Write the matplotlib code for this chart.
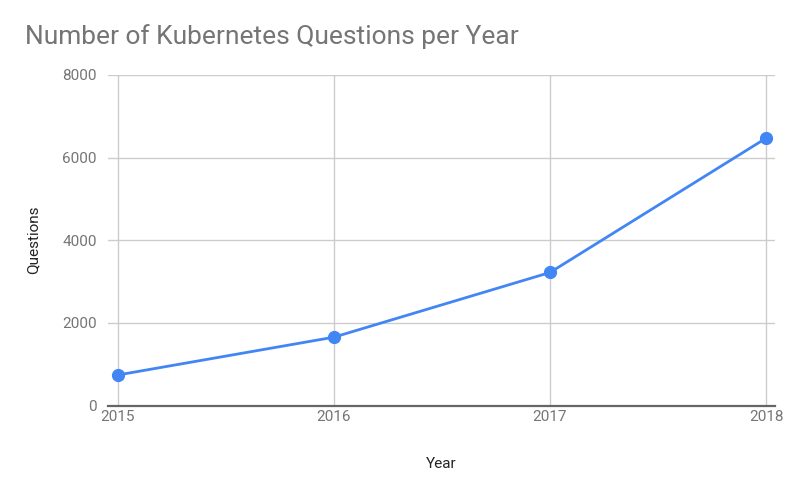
import matplotlib
matplotlib.use("Agg")
from matplotlib import pyplot as plt

years = [2015, 2016, 2017, 2018]
questions = [740, 1655, 3220, 6470]
yticks = [0, 2000, 4000, 6000, 8000]

plt.rcParams['font.family'] = ['Roboto', 'DejaVu Sans']

fig = plt.figure(figsize=(8, 4.8), dpi=100)
ax = fig.add_axes([0.135, 0.155, 0.834, 0.689])

ax.plot(years, questions, color='#4285F4', lw=2, marker='o', ms=8.5, zorder=3, clip_on=False)

ax.set_xlim(2014.955, 2018.042)
ax.set_ylim(0, 8000)
ax.set_xticks(years)
ax.set_yticks(yticks)
ax.grid(True, color='#cccccc', lw=1)
ax.set_axisbelow(True)
for s in ['top', 'right', 'left']:
    ax.spines[s].set_visible(False)
ax.spines['bottom'].set_color('#666666')
ax.spines['bottom'].set_linewidth(1.6)
ax.spines['bottom'].set_zorder(2)
ax.tick_params(length=0, labelsize=11, labelcolor='#757575')
ax.tick_params(axis='x', pad=3)
ax.tick_params(axis='y', pad=8)

ax.set_xlabel('Year', fontsize=11, color='#222222', labelpad=24)
ax.set_ylabel('Questions', fontsize=11, color='#222222', labelpad=16)

fig.text(0.031, 0.924, 'Number of Kubernetes Questions per Year', fontsize=19,
         color='#757575', va='center', ha='left')

fig.savefig('out.png', dpi=100)
